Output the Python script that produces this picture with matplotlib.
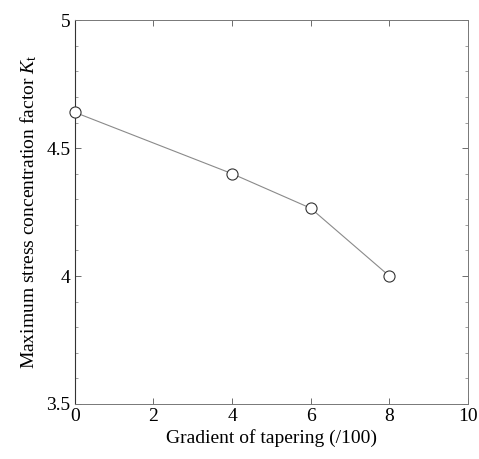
import matplotlib.pyplot as plt
from matplotlib.ticker import MultipleLocator

# Kt against taper gradient
gradient = [0, 4, 6, 8]
kt = [4.64, 4.40, 4.265, 4.0]

x_ticks = [0, 2, 4, 6, 8, 10]
y_ticks = [3.5, 4, 4.5, 5]
y_tick_labels = ['3.5', '4', '4.5', '5']

plt.rcParams['font.family'] = ['Liberation Serif', 'DejaVu Serif']
plt.rcParams['mathtext.fontset'] = 'custom'
plt.rcParams['mathtext.it'] = 'Liberation Serif:italic'
plt.rcParams['mathtext.rm'] = 'Liberation Serif'

fig = plt.figure(figsize=(4.79, 4.59), dpi=100)
ax = fig.add_axes([0.156, 0.12, 0.821, 0.836])

ax.plot(gradient, kt, color='#8a8a8a', linewidth=0.8, marker='o',
        markersize=8, markerfacecolor='white', markeredgecolor='#333333',
        markeredgewidth=0.8, clip_on=False, zorder=3)

ax.set_xlim(0, 10)
ax.set_ylim(3.5, 5)
ax.set_xticks(x_ticks)
ax.set_yticks(y_ticks)
ax.set_yticklabels(y_tick_labels)
ax.yaxis.set_minor_locator(MultipleLocator(0.1))
ax.tick_params(direction='in', top=True, right=True, labelsize=14,
               length=4, width=0.6, color='#555555', pad=3)
ax.tick_params(which='minor', direction='in', right=True, left=True,
               length=2, width=0.5, color='#777777')

for side in ['top', 'right', 'bottom']:
    ax.spines[side].set_color('#777777')
    ax.spines[side].set_linewidth(0.7)
ax.spines['left'].set_color('#333333')
ax.spines['left'].set_linewidth(0.8)

ax.set_xlabel('Gradient of tapering (/100)', fontsize=14, labelpad=3)
ax.set_ylabel('Maximum stress concentration factor $K_{\\rm t}$', fontsize=14, labelpad=5)

fig.savefig('out.png', dpi=100)
